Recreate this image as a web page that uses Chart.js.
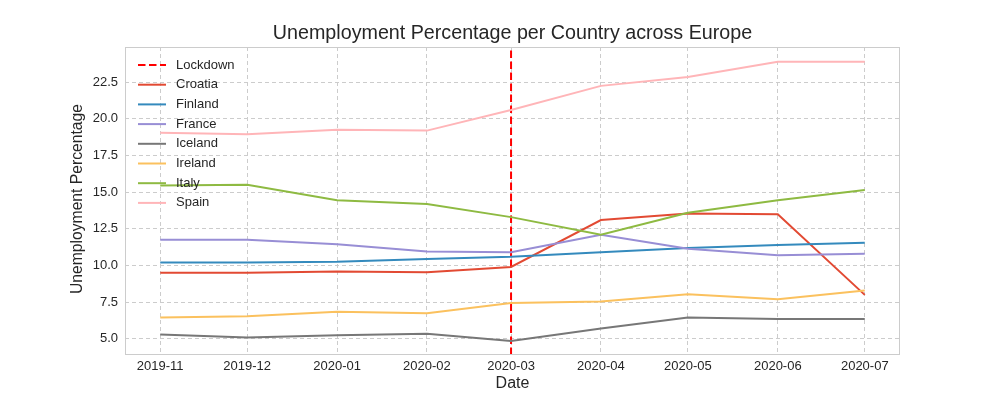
<!DOCTYPE html>
<html>
<head>
<meta charset="utf-8">
<script src="https://cdn.jsdelivr.net/npm/chart.js@4"></script>
<style>
  body { margin: 0; background: #fff; }
  #wrap { width: 1000px; height: 400px; }
</style>
</head>
<body>
<div id="wrap"><canvas id="myChart" width="1000" height="400"></canvas></div>
<script>
const months = ['2019-11', '2019-12', '2020-01', '2020-02', '2020-03', '2020-04', '2020-05', '2020-06', '2020-07'];
const lockdownMonth = '2020-03';

const croatia = [9.5, 9.5, 9.6, 9.55, 9.9, 13.1, 13.55, 13.5, 8.0];
const finland = [10.2, 10.2, 10.25, 10.45, 10.6, 10.9, 11.2, 11.4, 11.55];
const france  = [11.75, 11.75, 11.45, 10.95, 10.9, 12.1, 11.15, 10.7, 10.8];
const iceland = [5.3, 5.1, 5.25, 5.35, 4.85, 5.7, 6.45, 6.35, 6.35];
const ireland = [6.45, 6.55, 6.85, 6.75, 7.45, 7.55, 8.05, 7.7, 8.3];
const italy   = [15.45, 15.5, 14.45, 14.2, 13.3, 12.1, 13.6, 14.45, 15.15];
const spain   = [19.05, 18.95, 19.25, 19.2, 20.6, 22.25, 22.85, 23.9, 23.9];

const yTicks = [5.0, 7.5, 10.0, 12.5, 15.0, 17.5, 20.0, 22.5];

// dni od 2019-11-01 (os x jak w matplotlib, wg dat)
const base = Date.UTC(2019, 10, 1);
const toDays = m => {
    const [y, mo] = m.split('-').map(Number);
    return (Date.UTC(y, mo - 1, 1) - base) / 86400000;
};
const xDays = months.map(toDays);
const span = xDays[xDays.length - 1] - xDays[0];
const xMin = xDays[0] - span * 0.05;
const xMax = xDays[xDays.length - 1] + span * 0.05;
const yMin = 3.9, yMax = 24.9;

const series = [
    ['Croatia', croatia, '#E24A33'],
    ['Finland', finland, '#348ABD'],
    ['France', france, '#988ED5'],
    ['Iceland', iceland, '#777777'],
    ['Ireland', ireland, '#FBC15E'],
    ['Italy', italy, '#8EBA42'],
    ['Spain', spain, '#FFB5B8']
];

const datasets = [{
    label: 'Lockdown',
    data: [{ x: toDays(lockdownMonth), y: yMin }, { x: toDays(lockdownMonth), y: yMax }],
    borderColor: '#ff0000',
    borderDash: [7.5, 3.5],
    borderWidth: 2,
    order: 10
}];
series.forEach(([name, vals, color], i) => {
    datasets.push({
        label: name,
        data: vals.map((v, j) => ({ x: xDays[j], y: v })),
        borderColor: color,
        borderWidth: 2,
        order: 9 - i
    });
});

const FONT = '"Liberation Sans", Arial, sans-serif';
const TXT = '#262626';

const decor = {
    id: 'decor',
    afterDraw(chart) {
        const { ctx, chartArea: a } = chart;
        ctx.save();
        ctx.strokeStyle = '#cccccc';
        ctx.lineWidth = 1;
        ctx.setLineDash([]);
        ctx.strokeRect(a.left + 0.5, a.top + 0.5, a.right - a.left - 1, a.bottom - a.top - 1);

        ctx.fillStyle = TXT;
        ctx.textAlign = 'center';
        ctx.textBaseline = 'middle';
        ctx.font = '19.7px ' + FONT;
        ctx.fillText('Unemployment Percentage per Country across Europe', (a.left + a.right) / 2, 34);
        ctx.font = '16px ' + FONT;
        ctx.fillText('Date', (a.left + a.right) / 2, 384);
        ctx.translate(78, (a.top + a.bottom) / 2 - 2);
        ctx.rotate(-Math.PI / 2);
        ctx.font = '15.7px ' + FONT;
        ctx.fillText('Unemployment Percentage', 0, 0);
        ctx.restore();

        // legenda w polu wykresu
        ctx.save();
        ctx.font = '13px ' + FONT;
        ctx.textAlign = 'left';
        ctx.textBaseline = 'middle';
        chart.data.datasets.forEach((ds, i) => {
            const y = 65 + i * 19.7;
            ctx.strokeStyle = ds.borderColor;
            ctx.lineWidth = 2;
            ctx.setLineDash(ds.borderDash || []);
            ctx.beginPath();
            ctx.moveTo(138, y);
            ctx.lineTo(166, y);
            ctx.stroke();
            ctx.fillStyle = TXT;
            ctx.fillText(ds.label, 176, y);
        });
        ctx.restore();
    }
};

new Chart(document.getElementById('myChart').getContext('2d'), {
    type: 'line',
    data: { datasets },
    options: {
        responsive: false,
        animation: false,
        layout: { padding: { left: 60, right: 100, top: 47, bottom: 0 } },
        elements: { point: { radius: 0 }, line: { tension: 0 } },
        plugins: { legend: { display: false }, tooltip: { enabled: false } },
        scales: {
            x: {
                type: 'linear',
                min: xMin,
                max: xMax,
                afterBuildTicks: s => { s.ticks = xDays.map(v => ({ value: v })); },
                afterFit: s => { s.height = 45; },
                ticks: {
                    callback: (v, i) => months[i],
                    color: TXT,
                    font: { size: 13, family: FONT },
                    padding: 4,
                    maxRotation: 0,
                    autoSkip: false
                },
                grid: { color: '#cccccc', drawTicks: false },
                border: { display: false, dash: [4, 3] }
            },
            y: {
                min: yMin,
                max: yMax,
                afterBuildTicks: s => { s.ticks = yTicks.map(v => ({ value: v })); },
                afterFit: s => { s.width = 65; },
                ticks: {
                    callback: v => v.toFixed(1),
                    color: TXT,
                    font: { size: 13, family: FONT },
                    padding: 7
                },
                grid: { color: '#cccccc', drawTicks: false },
                border: { display: false, dash: [4, 3] }
            }
        }
    },
    plugins: [decor]
});
</script>
</body>
</html>
